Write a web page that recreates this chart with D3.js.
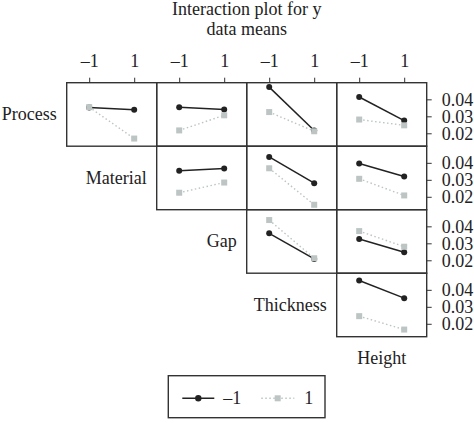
<!DOCTYPE html>
<html>
<head>
<meta charset="utf-8">
<script src="https://cdn.jsdelivr.net/npm/d3@7"></script>
<style>
  body { margin: 0; background: #fff; }
  text { font-family: "Liberation Serif", "Times New Roman", serif; fill: #222; }
</style>
</head>
<body>
<svg id="chart"></svg>
<script>
// factors on the diagonal, top-left to bottom-right
const factors = ["Process", "Material", "Gap", "Thickness", "Height"];
const levels = [-1, 1];
const yTicks = [0.02, 0.03, 0.04];

// one entry per panel: trace factor (row) and x factor (column)
const traceFactor = ["Process", "Process", "Process", "Process", "Material", "Material", "Material", "Gap", "Gap", "Thickness"];
const xFactor = ["Material", "Gap", "Thickness", "Height", "Gap", "Thickness", "Height", "Thickness", "Height", "Height"];
// means when the trace factor is at -1, read at x = -1 and x = 1
const meanTraceLow = [
  [0.0352, 0.0338], [0.0354, 0.0340], [0.0472, 0.0216], [0.0414, 0.0275],
  [0.0353, 0.0366], [0.0435, 0.0280], [0.0396, 0.0319],
  [0.0359, 0.0208], [0.0325, 0.0247],
  [0.0455, 0.0351]
];
// means when the trace factor is at 1
const meanTraceHigh = [
  [0.0354, 0.0169], [0.0217, 0.0306], [0.0325, 0.0212], [0.0281, 0.0247],
  [0.0224, 0.0284], [0.0368, 0.0153], [0.0306, 0.0208],
  [0.0437, 0.0212], [0.0372, 0.0280],
  [0.0245, 0.0166]
];

const width = 474, height = 423;
const gridLeft = 66.7, gridTop = 82.7;
const cellW = 90, cellH = 63.5;
const n = factors.length - 1;

const black = "#222", grey = "#bcc4c4";

const svg = d3.select("#chart")
  .attr("width", width)
  .attr("height", height);

svg.append("rect").attr("width", width).attr("height", height).attr("fill", "#fff");

const x = d3.scaleLinear().domain([-2, 2]).range([0, cellW]);
const y = d3.scaleLinear().domain([0.0124, 0.0498]).range([cellH, 0]);
const fmt = d => d < 0 ? "\u20131" : "1";

// title
svg.append("text")
  .attr("x", gridLeft + n * cellW / 2).attr("y", 15)
  .attr("text-anchor", "middle").attr("font-size", 18)
  .text("Interaction plot for y");
svg.append("text")
  .attr("x", gridLeft + n * cellW / 2).attr("y", 35)
  .attr("text-anchor", "middle").attr("font-size", 18)
  .text("data means");

const line = d3.line().x((d, i) => x(levels[i])).y(d => y(d));

traceFactor.forEach((tf, k) => {
  const r = factors.indexOf(tf);
  const c = factors.indexOf(xFactor[k]) - 1;
  const g = svg.append("g")
    .attr("transform", `translate(${gridLeft + c * cellW},${gridTop + r * cellH})`);

  g.append("rect")
    .attr("width", cellW).attr("height", cellH)
    .attr("fill", "none").attr("stroke", "#333").attr("stroke-width", 1.4);

  // -1 trace
  g.append("path")
    .attr("d", line(meanTraceLow[k]))
    .attr("fill", "none").attr("stroke", black).attr("stroke-width", 1.5);
  g.selectAll(".dot")
    .data(meanTraceLow[k])
    .join("circle")
    .attr("class", "dot")
    .attr("cx", (d, i) => x(levels[i]))
    .attr("cy", d => y(d))
    .attr("r", 3)
    .attr("fill", black);

  // 1 trace
  g.append("path")
    .attr("d", line(meanTraceHigh[k]))
    .attr("fill", "none").attr("stroke", grey).attr("stroke-width", 1.4)
    .attr("stroke-dasharray", "1.5,2.5");
  g.selectAll(".sq")
    .data(meanTraceHigh[k])
    .join("rect")
    .attr("class", "sq")
    .attr("x", (d, i) => x(levels[i]) - 3)
    .attr("y", d => y(d) - 3)
    .attr("width", 6).attr("height", 6)
    .attr("fill", grey);
});

// top axes
for (let c = 0; c < n; c++) {
  const ax = svg.append("g")
    .attr("transform", `translate(${gridLeft + c * cellW},${gridTop})`)
    .call(d3.axisTop(x).tickValues(levels).tickSize(5).tickPadding(11).tickFormat(fmt));
  ax.select(".domain").remove();
  ax.selectAll("line").attr("stroke", "#333");
  ax.selectAll("text").attr("font-size", 18).attr("font-family", "Liberation Serif").attr("fill", "#222");
}

// right axes
for (let r = 0; r < n; r++) {
  const ax = svg.append("g")
    .attr("transform", `translate(${gridLeft + n * cellW},${gridTop + r * cellH})`)
    .call(d3.axisRight(y).tickValues(yTicks).tickSize(5).tickPadding(10).tickFormat(d3.format(".2f")));
  ax.select(".domain").remove();
  ax.selectAll("line").attr("stroke", "#333");
  ax.selectAll("text").attr("font-size", 18).attr("font-family", "Liberation Serif").attr("fill", "#222");
}

// diagonal labels
factors.forEach((f, i) => {
  if (i < n) {
    svg.append("text")
      .attr("x", gridLeft + i * cellW - 10)
      .attr("y", gridTop + i * cellH + cellH / 2 + 6)
      .attr("text-anchor", "end").attr("font-size", 18)
      .text(f);
  } else {
    svg.append("text")
      .attr("x", gridLeft + (n - 0.5) * cellW)
      .attr("y", gridTop + n * cellH + 27)
      .attr("text-anchor", "middle").attr("font-size", 18)
      .text(f);
  }
});

// legend
const lg = svg.append("g").attr("transform", "translate(168.3,375.7)");
lg.append("rect")
  .attr("width", 156.7).attr("height", 42)
  .attr("fill", "none").attr("stroke", "#333").attr("stroke-width", 1.4);
const ly = 22.6;
lg.append("line").attr("x1", 14).attr("x2", 46).attr("y1", ly).attr("y2", ly)
  .attr("stroke", black).attr("stroke-width", 1.5);
lg.append("circle").attr("cx", 30).attr("cy", ly).attr("r", 3.2).attr("fill", black);
lg.append("text").attr("x", 55).attr("y", ly + 6).attr("font-size", 18).text(fmt(-1));
lg.append("line").attr("x1", 93).attr("x2", 126).attr("y1", ly).attr("y2", ly)
  .attr("stroke", grey).attr("stroke-width", 1.4).attr("stroke-dasharray", "1.5,2.5");
lg.append("rect").attr("x", 106.4).attr("y", ly - 3).attr("width", 6).attr("height", 6).attr("fill", grey);
lg.append("text").attr("x", 136).attr("y", ly + 6).attr("font-size", 18).text(fmt(1));
</script>
</body>
</html>
